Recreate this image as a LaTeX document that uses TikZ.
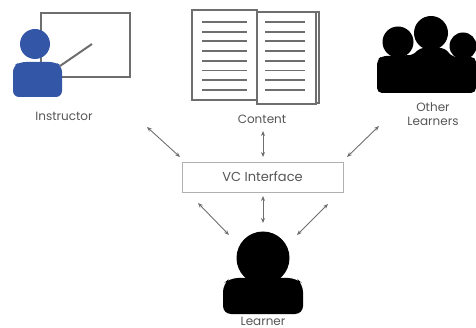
\documentclass[tikz,border=0pt]{standalone}
\usepackage{fontspec}
\setmainfont{Poppins}
\usetikzlibrary{arrows.meta}
\definecolor{txtgray}{HTML}{555555}
\definecolor{linegray}{HTML}{6E6E6E}
\definecolor{figblue}{RGB}{52,86,166}
\definecolor{boxgray}{HTML}{B0B0B0}
\tikzset{
  lbl/.style={text=txtgray,font=\fontsize{12}{14}\selectfont,inner sep=0pt,align=center},
  link/.style={draw=linegray,line width=0.9pt,{Stealth[length=5pt,width=4pt]}-{Stealth[length=5pt,width=4pt]}},
  board/.style={draw=linegray,line width=2.6pt},
  page/.style={draw=linegray,line width=2.2pt,fill=white},
  txtline/.style={draw=linegray,line width=1.8pt},
  vcbox/.style={draw=boxgray,line width=0.8pt,minimum width=161pt,minimum height=30pt,inner sep=0pt,text=txtgray,font=\fontsize{13}{15}\selectfont},
  silhouette/.style={fill=black},
}
\begin{document}
\begin{tikzpicture}[x=1pt,y=-1pt]
\useasboundingbox (0,0) rectangle (476,328);
% Instructor
\draw[board] (41,13) rectangle (130,77);
\draw[draw=linegray,line width=2pt] (60,66) -- (92,44);
\fill[figblue,rounded corners=6pt] (13,97) -- (13,66) -- (20,62) -- (55,62) -- (62,66) -- (62,97) -- cycle;
\fill[figblue] (35,44) circle (15);
\node[lbl] (instr) at (64,116) {Instructor};
% Content
\draw[page] (257,12) rectangle (319,103);
\draw[page] (192,10) rectangle (257,100);
\draw[page] (257,12) rectangle (316,104);
\foreach \yy in {22,31.7,41.4,51.1,60.8,70.5,80.2,90} {
  \draw[txtline] (202,\yy) -- (247,\yy);
  \draw[txtline] (265,\yy) -- (305,\yy);
}
\node[lbl] (content) at (262,119) {Content};
% Other learners
\fill[silhouette, rounded corners=5pt] (377,93) -- (377,60) -- (382,56) -- (414,55) -- (419,48) -- (445,48) -- (452,57) -- (476,57) -- (476,93) -- cycle;
\fill[silhouette] (398,42) circle (15.5);
\fill[silhouette] (431,33) circle (17);
\fill[silhouette] (463,46) circle (13.5);
\node[lbl] (other) at (433,114) {Other\\Learners};
% VC interface
\node[vcbox] (vc) at (262.5,177) {VC Interface};
% Learner
\fill[silhouette, rounded corners=8pt] (223,314) -- (223,284) -- (230,278) -- (296,278) -- (303,284) -- (303,314) -- cycle;
\fill[silhouette] (263,258) circle (26.5);
\node[lbl] (learner) at (263,321) {Learner};
% connectors
\coordinate (a1) at (147,127); \coordinate (a2) at (180,157);
\coordinate (b1) at (263,131); \coordinate (b2) at (263,157);
\coordinate (c1) at (379,126); \coordinate (c2) at (347,157);
\coordinate (d1) at (263,196); \coordinate (d2) at (263,223);
\coordinate (e1) at (198,203); \coordinate (e2) at (229,235);
\coordinate (f1) at (328,204); \coordinate (f2) at (297,235);
\draw[link] (a1) -- (a2);
\draw[link] (b1) -- (b2);
\draw[link] (c1) -- (c2);
\draw[link] (d1) -- (d2);
\draw[link] (e1) -- (e2);
\draw[link] (f1) -- (f2);
\end{tikzpicture}
\end{document}
